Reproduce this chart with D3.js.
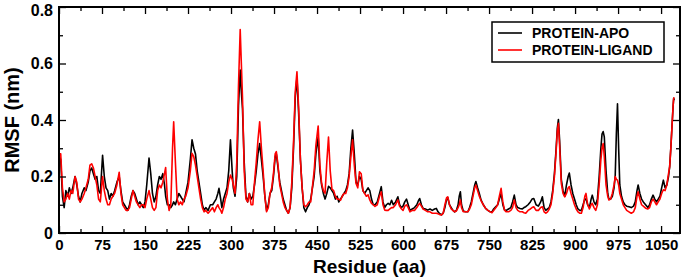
<!DOCTYPE html>
<html>
<head>
<meta charset="utf-8">
<script src="https://cdn.jsdelivr.net/npm/d3@7"></script>
<style>
  body { margin: 0; background: #fff; }
  text { font-family: "Liberation Sans", Arial, sans-serif; font-weight: bold; }
</style>
</head>
<body>
<div id="chart"></div>
<script>
// residue numbers sampled along the chain
var residues = [1,3,6,9,12,15,18,21,24,28,31,34,37,40,44,47,51,54,57,60,63,66,69,72,76,79,82,85,88,91,94,97,101,105,108,111,114,117,120,123,126,129,132,135,138,141,144,147,150,153,157,160,163,166,169,172,175,178,181,184,186,189,192,195,198,200,203,206,209,212,215,218,221,225,229,232,235,238,241,244,247,250,253,256,260,264,268,271,274,277,279,282,284,287,290,293,296,299,302,304,307,310,313,316,318,320,323,326,329,332,335,338,341,344,347,350,353,356,359,362,365,368,371,374,377,379,382,385,388,391,394,397,400,403,406,409,412,415,418,421,424,427,430,433,436,439,442,445,448,452,455,458,461,464,467,470,473,476,479,482,485,488,491,494,497,500,503,506,509,512,515,518,521,524,527,530,533,536,539,542,545,548,551,555,559,562,565,568,571,574,577,580,583,587,591,594,597,600,603,606,609,612,616,620,624,627,629,632,635,639,643,647,651,655,658,661,664,667,670,673,676,678,681,684,687,690,693,696,698,700,702,705,709,713,716,719,722,725,727,730,733,736,740,744,748,752,755,758,762,765,768,771,774,777,780,784,788,791,794,797,800,804,808,811,814,818,822,825,828,832,836,840,843,846,849,852,855,858,861,864,867,869,871,873,876,879,882,885,888,890,893,896,899,902,905,908,911,914,917,919,922,925,928,930,933,936,939,942,945,947,949,951,954,957,959,962,965,968,970,972,974,976,978,981,984,987,990,994,998,1002,1005,1008,1010,1013,1016,1019,1023,1027,1030,1033,1036,1039,1042,1045,1048,1051,1054,1057,1060,1063,1065,1067,1069,1071,1072,1073];

var apoRmsf = [0.27,0.26,0.13,0.09,0.15,0.13,0.16,0.14,0.16,0.20,0.17,0.13,0.11,0.14,0.16,0.15,0.18,0.22,0.23,0.21,0.19,0.20,0.15,0.14,0.275,0.20,0.16,0.15,0.12,0.14,0.13,0.15,0.18,0.20,0.15,0.11,0.10,0.09,0.08,0.10,0.13,0.15,0.14,0.12,0.10,0.11,0.10,0.09,0.11,0.17,0.265,0.21,0.14,0.11,0.13,0.17,0.20,0.19,0.21,0.17,0.13,0.10,0.10,0.09,0.10,0.11,0.10,0.12,0.14,0.13,0.12,0.11,0.14,0.18,0.26,0.33,0.30,0.28,0.22,0.18,0.14,0.10,0.08,0.09,0.08,0.10,0.10,0.11,0.12,0.14,0.158,0.12,0.09,0.12,0.14,0.16,0.22,0.33,0.22,0.16,0.13,0.20,0.45,0.577,0.50,0.44,0.25,0.13,0.11,0.14,0.12,0.13,0.17,0.22,0.28,0.317,0.26,0.20,0.13,0.08,0.10,0.14,0.15,0.20,0.27,0.28,0.23,0.18,0.15,0.12,0.10,0.08,0.07,0.09,0.16,0.30,0.48,0.55,0.42,0.26,0.16,0.09,0.075,0.09,0.10,0.12,0.16,0.20,0.28,0.34,0.22,0.17,0.14,0.12,0.14,0.165,0.16,0.15,0.14,0.12,0.13,0.11,0.12,0.13,0.14,0.15,0.17,0.21,0.30,0.364,0.28,0.18,0.17,0.20,0.19,0.15,0.14,0.15,0.16,0.15,0.12,0.10,0.10,0.11,0.14,0.164,0.11,0.09,0.10,0.105,0.10,0.116,0.10,0.11,0.128,0.10,0.09,0.095,0.11,0.12,0.10,0.08,0.085,0.09,0.10,0.115,0.122,0.10,0.087,0.085,0.081,0.085,0.08,0.085,0.087,0.075,0.068,0.064,0.07,0.09,0.12,0.125,0.10,0.09,0.08,0.075,0.08,0.10,0.13,0.146,0.10,0.078,0.075,0.075,0.09,0.11,0.14,0.17,0.182,0.16,0.14,0.117,0.10,0.087,0.08,0.075,0.075,0.085,0.094,0.10,0.12,0.14,0.10,0.081,0.08,0.085,0.09,0.11,0.134,0.10,0.09,0.087,0.085,0.09,0.093,0.10,0.11,0.12,0.122,0.10,0.095,0.11,0.128,0.09,0.08,0.085,0.09,0.11,0.15,0.21,0.30,0.37,0.402,0.33,0.19,0.15,0.13,0.17,0.20,0.212,0.17,0.14,0.12,0.10,0.085,0.08,0.08,0.10,0.12,0.12,0.10,0.09,0.12,0.134,0.11,0.10,0.12,0.20,0.30,0.35,0.359,0.34,0.22,0.14,0.12,0.12,0.13,0.16,0.20,0.35,0.457,0.30,0.17,0.13,0.11,0.10,0.095,0.093,0.09,0.095,0.11,0.15,0.17,0.14,0.12,0.11,0.10,0.09,0.10,0.12,0.134,0.12,0.11,0.12,0.13,0.16,0.187,0.16,0.17,0.20,0.235,0.30,0.376,0.45,0.477,0.47];

var ligandRmsf = [0.28,0.28,0.16,0.11,0.12,0.14,0.12,0.15,0.14,0.20,0.18,0.12,0.11,0.12,0.14,0.16,0.19,0.24,0.245,0.23,0.20,0.17,0.12,0.11,0.20,0.15,0.12,0.10,0.10,0.12,0.13,0.14,0.17,0.215,0.14,0.10,0.09,0.08,0.08,0.09,0.12,0.15,0.13,0.11,0.10,0.09,0.10,0.10,0.09,0.12,0.15,0.12,0.09,0.08,0.09,0.15,0.17,0.16,0.18,0.21,0.232,0.12,0.08,0.10,0.30,0.394,0.25,0.12,0.10,0.11,0.10,0.12,0.13,0.16,0.22,0.282,0.27,0.24,0.20,0.16,0.12,0.09,0.075,0.08,0.07,0.08,0.09,0.075,0.09,0.10,0.09,0.08,0.07,0.09,0.12,0.14,0.18,0.205,0.19,0.17,0.14,0.25,0.52,0.72,0.60,0.48,0.22,0.12,0.11,0.14,0.10,0.10,0.18,0.25,0.33,0.394,0.30,0.22,0.13,0.075,0.09,0.14,0.16,0.21,0.28,0.288,0.24,0.17,0.14,0.11,0.09,0.08,0.07,0.09,0.18,0.32,0.50,0.571,0.44,0.26,0.16,0.10,0.093,0.10,0.11,0.11,0.165,0.22,0.31,0.379,0.24,0.175,0.15,0.14,0.25,0.34,0.22,0.155,0.15,0.13,0.12,0.12,0.116,0.13,0.14,0.14,0.16,0.20,0.27,0.33,0.24,0.175,0.16,0.217,0.21,0.15,0.14,0.13,0.135,0.117,0.105,0.10,0.094,0.10,0.13,0.146,0.10,0.081,0.08,0.08,0.085,0.09,0.09,0.10,0.117,0.095,0.086,0.08,0.095,0.10,0.09,0.075,0.08,0.08,0.09,0.10,0.105,0.095,0.085,0.08,0.075,0.075,0.07,0.07,0.07,0.068,0.065,0.064,0.07,0.10,0.125,0.128,0.10,0.085,0.08,0.075,0.078,0.09,0.10,0.117,0.09,0.075,0.075,0.075,0.085,0.10,0.13,0.16,0.17,0.15,0.13,0.115,0.10,0.087,0.08,0.075,0.072,0.08,0.09,0.10,0.13,0.158,0.11,0.081,0.075,0.075,0.08,0.09,0.117,0.09,0.08,0.075,0.075,0.072,0.07,0.08,0.085,0.09,0.093,0.08,0.08,0.09,0.093,0.075,0.07,0.075,0.085,0.10,0.14,0.20,0.29,0.36,0.388,0.31,0.176,0.14,0.128,0.14,0.16,0.164,0.14,0.12,0.10,0.085,0.075,0.07,0.07,0.09,0.13,0.14,0.10,0.085,0.10,0.105,0.09,0.08,0.10,0.17,0.26,0.30,0.317,0.27,0.17,0.13,0.117,0.12,0.14,0.17,0.20,0.19,0.187,0.17,0.14,0.12,0.10,0.09,0.08,0.075,0.07,0.075,0.09,0.13,0.146,0.12,0.10,0.095,0.088,0.085,0.09,0.11,0.12,0.11,0.10,0.11,0.12,0.14,0.153,0.15,0.17,0.21,0.235,0.30,0.376,0.45,0.477,0.48];

var xTicks = [0,75,150,225,300,375,450,525,600,675,750,825,900,975,1050];
var xMinorTicks = [37.5,112.5,187.5,262.5,337.5,412.5,487.5,562.5,637.5,712.5,787.5,862.5,937.5,1012.5];
var yTicks = [0,0.2,0.4,0.6,0.8];
var yMinorTicks = [0.1,0.3,0.5,0.7];
var seriesNames = ["PROTEIN-APO","PROTEIN-LIGAND"];
var seriesColors = ["#000000","#ff0000"];

var margin = {top: 7, right: 5, bottom: 45, left: 59},
    width = 685 - margin.left - margin.right,
    height = 278 - margin.top - margin.bottom;

var svg = d3.select("#chart")
  .append("svg")
    .attr("width", 685)
    .attr("height", 278)
  .append("g")
    .attr("transform", "translate(" + margin.left + "," + margin.top + ")");

var x = d3.scaleLinear().domain([0, 1083]).range([0, width]);
var y = d3.scaleLinear().domain([0, 0.8]).range([height, 0]);

// lines first, frame and ticks on top
var line = d3.line()
  .x(function(d) { return x(d[0]); })
  .y(function(d) { return y(d[1]); });

[apoRmsf, ligandRmsf].forEach(function(vals, i) {
  svg.append("path")
    .datum(residues.map(function(r, j) { return [r, vals[j]]; }))
    .attr("fill", "none")
    .attr("stroke", seriesColors[i])
    .attr("stroke-width", 1.6)
    .attr("stroke-linejoin", "round")
    .attr("d", line);
});

// bottom axis with labels
var xAxis = svg.append("g")
  .attr("transform", "translate(0," + height + ")")
  .call(d3.axisBottom(x).tickValues(xTicks).tickSizeInner(-7).tickSizeOuter(0).tickPadding(6).tickFormat(d3.format("d")));
xAxis.selectAll("text").style("font-size", "15px").attr("fill", "#000");

svg.append("g")
  .attr("transform", "translate(0," + height + ")")
  .call(d3.axisBottom(x).tickValues(xMinorTicks).tickSizeInner(-4).tickSizeOuter(0).tickFormat(""));
svg.append("g")
  .call(d3.axisTop(x).tickValues(xTicks).tickSizeInner(-7).tickSizeOuter(0).tickFormat(""));
svg.append("g")
  .call(d3.axisTop(x).tickValues(xMinorTicks).tickSizeInner(-4).tickSizeOuter(0).tickFormat(""));

var yAxis = svg.append("g")
  .call(d3.axisLeft(y).tickValues(yTicks).tickSizeInner(-7).tickSizeOuter(0).tickPadding(6)
    .tickFormat(function(d) { return d === 0 ? "0" : d3.format(".1f")(d); }));
yAxis.selectAll("text").style("font-size", "16px").attr("fill", "#000");
yAxis.selectAll("text").filter(function(d) { return d === 0.8; }).attr("dy", "0.5em");

svg.append("g")
  .call(d3.axisLeft(y).tickValues(yMinorTicks).tickSizeInner(-4).tickSizeOuter(0).tickFormat(""));
svg.append("g")
  .attr("transform", "translate(" + width + ",0)")
  .call(d3.axisRight(y).tickValues(yTicks).tickSizeInner(-7).tickSizeOuter(0).tickFormat(""));
svg.append("g")
  .attr("transform", "translate(" + width + ",0)")
  .call(d3.axisRight(y).tickValues(yMinorTicks).tickSizeInner(-4).tickSizeOuter(0).tickFormat(""));

svg.selectAll(".domain").remove();
svg.selectAll(".tick line").attr("stroke", "#000").attr("stroke-width", 1.3);

svg.append("rect")
  .attr("width", width)
  .attr("height", height)
  .attr("fill", "none")
  .attr("stroke", "#000")
  .attr("stroke-width", 2);

// axis titles
svg.append("text")
  .attr("x", width / 2)
  .attr("y", height + 40)
  .attr("text-anchor", "middle")
  .style("font-size", "19px")
  .text("Residue (aa)");

svg.append("text")
  .attr("transform", "translate(-40," + (height / 2) + ") rotate(-90)")
  .attr("text-anchor", "middle")
  .style("font-size", "20px")
  .text("RMSF (nm)");

// legend
var legend = svg.append("g").attr("transform", "translate(" + (width - 188) + ",15)");
legend.append("rect")
  .attr("width", 172)
  .attr("height", 40)
  .attr("fill", "#fff")
  .attr("stroke", "#000")
  .attr("stroke-width", 1.5);

seriesNames.forEach(function(name, i) {
  legend.append("line")
    .attr("x1", 6).attr("x2", 30)
    .attr("y1", 11 + i * 17).attr("y2", 11 + i * 17)
    .attr("stroke", seriesColors[i])
    .attr("stroke-width", 1.6);
  legend.append("text")
    .attr("x", 40)
    .attr("y", 16 + i * 17)
    .style("font-size", "14px")
    .text(name);
});
</script>
</body>
</html>
